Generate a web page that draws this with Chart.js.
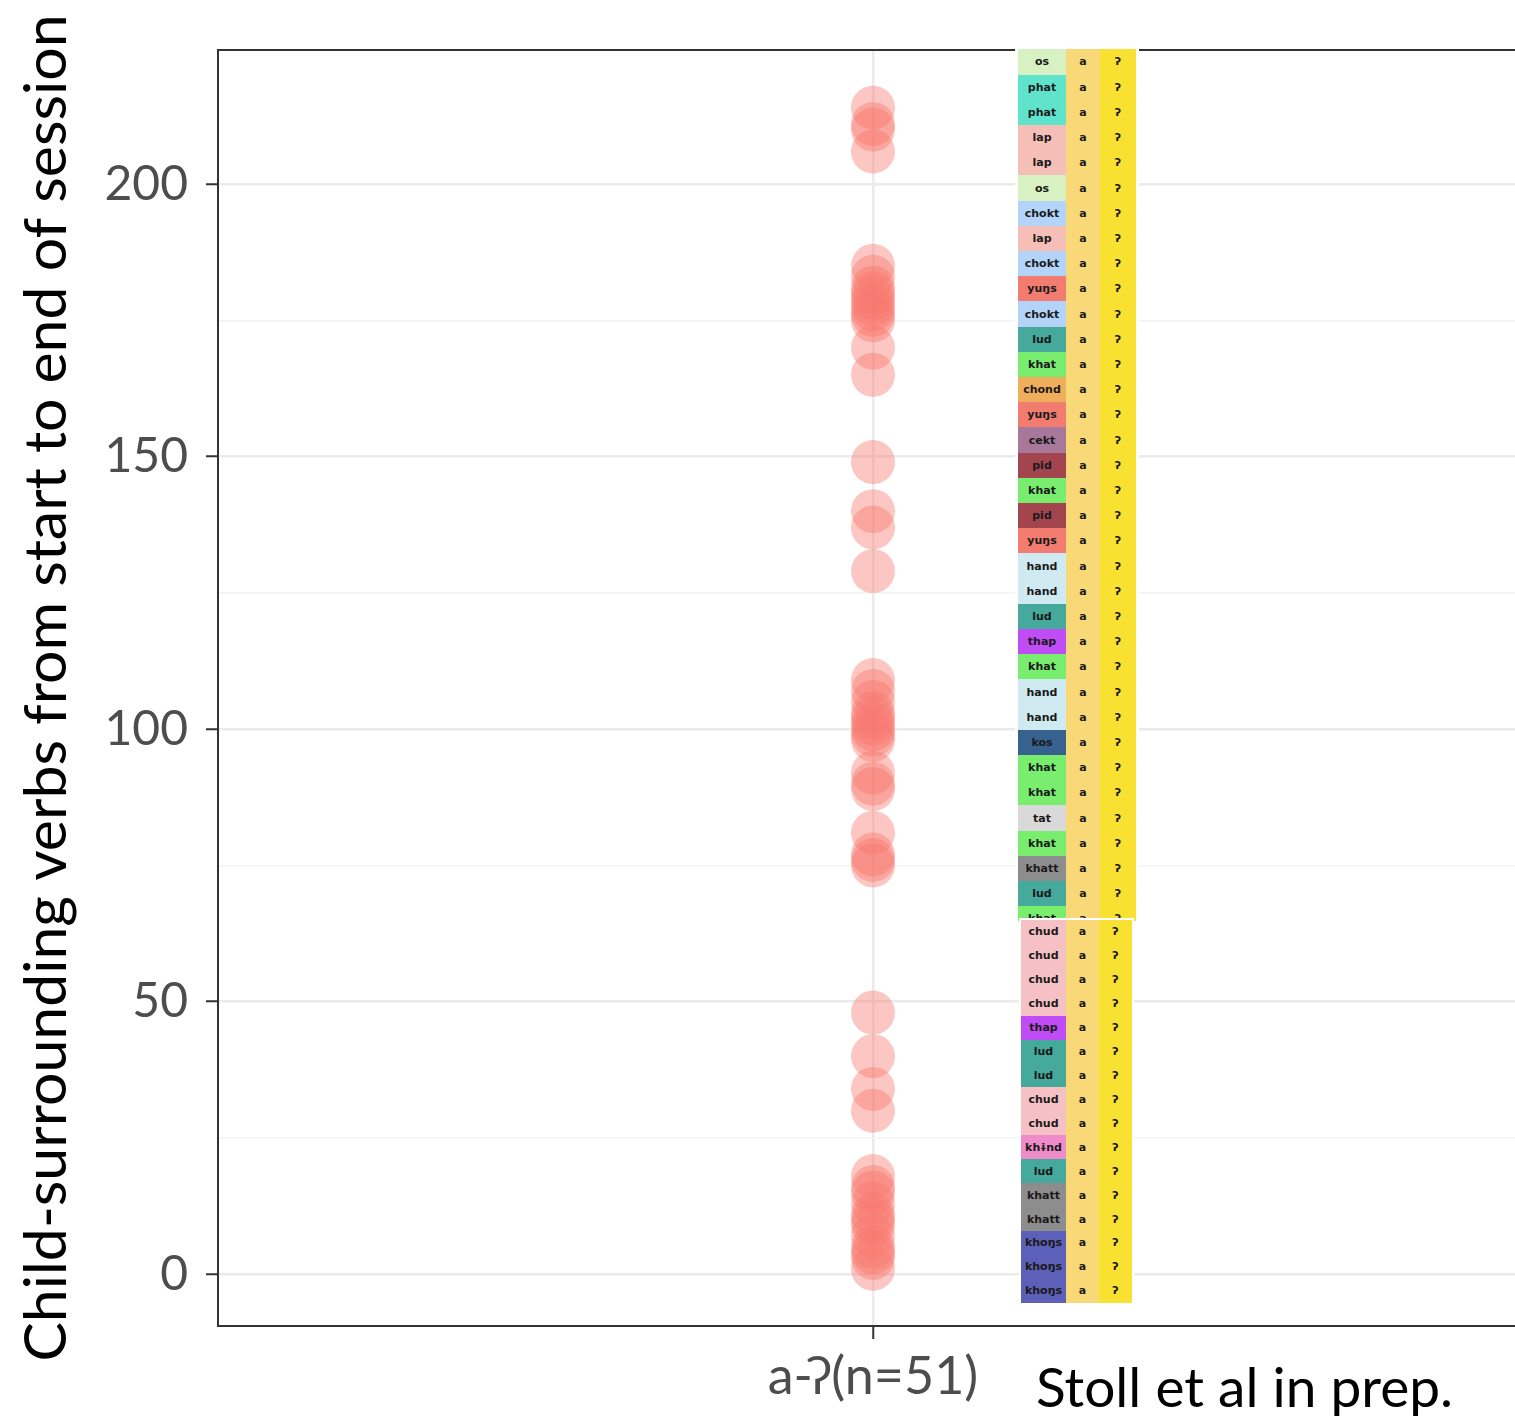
<!DOCTYPE html>
<html>
<head>
<meta charset="utf-8">
<script src="https://cdn.jsdelivr.net/npm/chart.js@4.4.0/dist/chart.umd.min.js"></script>
<style>
  body { margin: 0; overflow: hidden; background: #fff; }
  #wrap { position: relative; width: 1515px; height: 1416px; overflow: hidden; }
  canvas { position: absolute; left: 0; top: 0; }
  .tbl { position: absolute; background: #fff; box-sizing: border-box; overflow: hidden; }
  .row { display: flex; }
  .row div {
    display: flex; align-items: center; justify-content: center;
    font: bold 11px "DejaVu Sans", sans-serif; color: #1a1a1a;
  }
  #credit {
    position: absolute; left: 1036px; top: 1353px;
    font: 55px Lato, sans-serif; color: #000; white-space: nowrap;
  }
</style>
</head>
<body>
<div id="wrap">
  <canvas id="dotChart" width="1528" height="1416"></canvas>
  <div id="topTable" class="tbl"></div>
  <div id="bottomTable" class="tbl"></div>
  <div id="credit">Stoll et al in prep.</div>
</div>
<script>
// data
const xLabel = "a-ʔ(n=51)";
const verbTimes = [
  214, 211, 210, 206,
  185, 183, 181, 180, 179, 178, 177, 176, 175, 170, 165,
  149, 140, 137, 129,
  109, 107, 105, 103, 102, 101, 100, 99, 98,
  92, 90, 89, 81, 77, 76, 75,
  48, 40, 34, 30,
  18, 16, 15, 13, 11, 10, 9, 7, 5, 4, 3, 1
];
const majorTicks = [0, 50, 100, 150, 200];
const minorTicks = [25, 75, 125, 175];
const yMin = -9.5;
const yMax = 224.6;

// inset table
const topVerbs = ["os", "phat", "phat", "lap", "lap", "os", "chokt", "lap", "chokt", "yuŋs",
  "chokt", "lud", "khat", "chond", "yuŋs", "cekt", "pid", "khat", "pid", "yuŋs",
  "hand", "hand", "lud", "thap", "khat", "hand", "hand", "kos", "khat", "khat",
  "tat", "khat", "khatt", "lud", "khat"];
const bottomVerbs = ["chud", "chud", "chud", "chud", "thap", "lud", "lud", "chud", "chud",
  "khɨnd", "lud", "khatt", "khatt", "khoŋs", "khoŋs", "khoŋs"];
const verbColors = {
  os: "#d8f1c3", phat: "#5fe4cb", lap: "#f5beb7", chokt: "#b4d3f9", "yuŋs": "#f27c6f",
  lud: "#45a99c", khat: "#79ed6d", chond: "#eeae5b", cekt: "#a8789b", pid: "#a3454f",
  hand: "#cfeaf0", thap: "#c04cf6", kos: "#37628f", tat: "#d9d9d9", khatt: "#8d8d8d",
  chud: "#f6c1c5", "khɨnd": "#f08bc9", "khoŋs": "#5d60b8"
};
const prefixColor = "#f9d977";
const stopColor = "#f9e131";

function buildTable(id, verbs, box, rowH, widths) {
  const el = document.getElementById(id);
  el.style.left = box.left + "px";
  el.style.top = box.top + "px";
  el.style.width = box.width + "px";
  el.style.height = box.height + "px";
  el.style.padding = box.pad;
  verbs.forEach(v => {
    const row = document.createElement("div");
    row.className = "row";
    const cells = [[v, verbColors[v]], ["a", prefixColor], ["ʔ", stopColor]];
    cells.forEach((c, i) => {
      const d = document.createElement("div");
      d.textContent = c[0];
      d.style.background = c[1];
      d.style.width = widths[i] + "px";
      d.style.height = rowH + "px";
      row.appendChild(d);
    });
    el.appendChild(row);
  });
}

buildTable("topTable", topVerbs, { left: 1015, top: 47, width: 124, height: 874, pad: "2.4px 3px 0 3px" },
  25.21, [48, 34, 36]);
buildTable("bottomTable", bottomVerbs, { left: 1019, top: 918, width: 115, height: 387, pad: "2px" },
  23.93, [45, 33, 33]);

const panelBorder = {
  id: "panelBorder",
  afterDraw(chart) {
    const { ctx, chartArea: a } = chart;
    ctx.save();
    ctx.strokeStyle = "#333333";
    ctx.lineWidth = 2;
    ctx.strokeRect(a.left, a.top, a.right - a.left, a.bottom - a.top);
    ctx.restore();
  }
};

const isMajor = v => majorTicks.includes(v);

new Chart(document.getElementById("dotChart").getContext("2d"), {
  type: "scatter",
  data: {
    labels: [xLabel],
    datasets: [{
      data: verbTimes.map(v => ({ x: xLabel, y: v })),
      backgroundColor: "rgba(248,118,109,0.42)",
      borderWidth: 0,
      pointRadius: 22,
      pointHoverRadius: 22
    }]
  },
  options: {
    responsive: false,
    animation: false,
    layout: { autoPadding: false, padding: { top: 50, right: 0, left: 0, bottom: 0 } },
    plugins: { legend: { display: false }, tooltip: { enabled: false } },
    scales: {
      x: {
        type: "category",
        offset: true,
        border: { display: false },
        grid: { color: "#ebebeb", lineWidth: 2.5, tickColor: "#333333", tickLength: 13, tickWidth: 2 },
        ticks: { color: "#4d4d4d", font: { family: "Lato", size: 52 }, padding: 7 },
        afterFit(scale) { scale.height = 90; }
      },
      y: {
        min: yMin,
        max: yMax,
        border: { display: false },
        afterBuildTicks(scale) {
          scale.ticks = majorTicks.concat(minorTicks).sort((a, b) => a - b).map(v => ({ value: v }));
        },
        grid: {
          color: ctx => isMajor(ctx.tick.value) ? "#ebebeb" : "#f3f3f3",
          lineWidth: ctx => isMajor(ctx.tick.value) ? 2.5 : 1.4,
          tickColor: ctx => isMajor(ctx.tick.value) ? "#333333" : "rgba(0,0,0,0)",
          tickLength: 12,
          tickWidth: 2
        },
        ticks: {
          color: "#4d4d4d",
          font: { family: "Lato", size: 48 },
          padding: 18,
          callback: v => isMajor(v) ? String(v) : ""
        },
        title: {
          display: true,
          text: "Child-surrounding verbs from start to end of session",
          color: "#000",
          font: { family: "Lato", size: 59 },
          padding: { top: 12, bottom: 0 }
        },
        afterFit(scale) { scale.width = 218; }
      }
    }
  },
  plugins: [panelBorder]
});
</script>
</body>
</html>
